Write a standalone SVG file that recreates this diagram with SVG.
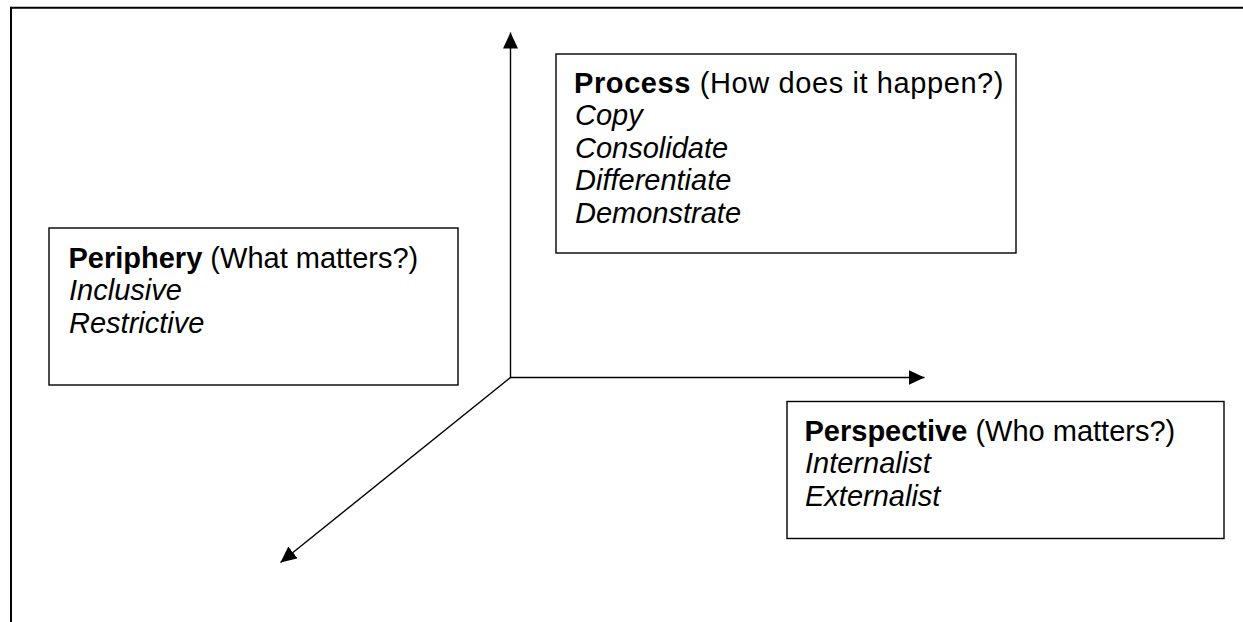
<svg xmlns="http://www.w3.org/2000/svg" width="1243" height="622" viewBox="0 0 1243 622">
<defs>
<style>
.frame{stroke:#000;stroke-width:2;fill:none}
.box{fill:#fff;stroke:#000;stroke-width:1.4}
.axis{stroke:#000;stroke-width:1.4;fill:none}
text{font-family:"Liberation Sans",Arial,sans-serif;font-size:29px;fill:#000}
.b{font-weight:bold}
.i{font-style:italic}
</style>
<marker id="arr" markerUnits="userSpaceOnUse" markerWidth="16" markerHeight="15" refX="16" refY="7.5" orient="auto">
<path d="M0,0 L16,7.5 L0,15 z" fill="#000"/>
</marker>
</defs>
<rect width="1243" height="622" fill="#fff"/>
<g id="frame">
<line class="frame" x1="11" y1="7.7" x2="1243" y2="7.7"/>
<line class="frame" x1="11" y1="6.7" x2="11" y2="622"/>
</g>
<g id="connectors">
<line class="axis" x1="510.5" y1="378" x2="510.5" y2="32.5" marker-end="url(#arr)"/>
<line class="axis" x1="510" y1="377.5" x2="924.5" y2="377.5" marker-end="url(#arr)"/>
<line class="axis" x1="510.5" y1="377.5" x2="280.5" y2="562.5" marker-end="url(#arr)"/>
</g>
<g id="process">
<rect class="box" x="556" y="54" width="460" height="199"/>
<text x="574" y="93"><tspan class="b" letter-spacing="0.6">Process</tspan><tspan letter-spacing="0.6"> (How does it happen?)</tspan><tspan class="i" x="575" y="125.4">Copy</tspan><tspan class="i" x="575" y="157.8">Consolidate</tspan><tspan class="i" x="575" y="190.2">Differentiate</tspan><tspan class="i" x="575" y="222.6">Demonstrate</tspan></text>
</g>
<g id="periphery">
<rect class="box" x="49" y="228" width="409" height="157"/>
<text x="68.5" y="268"><tspan class="b">Periphery</tspan><tspan> (What matters?)</tspan><tspan class="i" x="69" y="300.4">Inclusive</tspan><tspan class="i" x="69" y="332.8">Restrictive</tspan></text>
</g>
<g id="perspective">
<rect class="box" x="787" y="401.5" width="437" height="137"/>
<text x="804.5" y="441"><tspan class="b">Perspective</tspan><tspan> (Who matters?)</tspan><tspan class="i" x="805" y="473.4">Internalist</tspan><tspan class="i" x="805" y="505.8">Externalist</tspan></text>
</g>
</svg>
